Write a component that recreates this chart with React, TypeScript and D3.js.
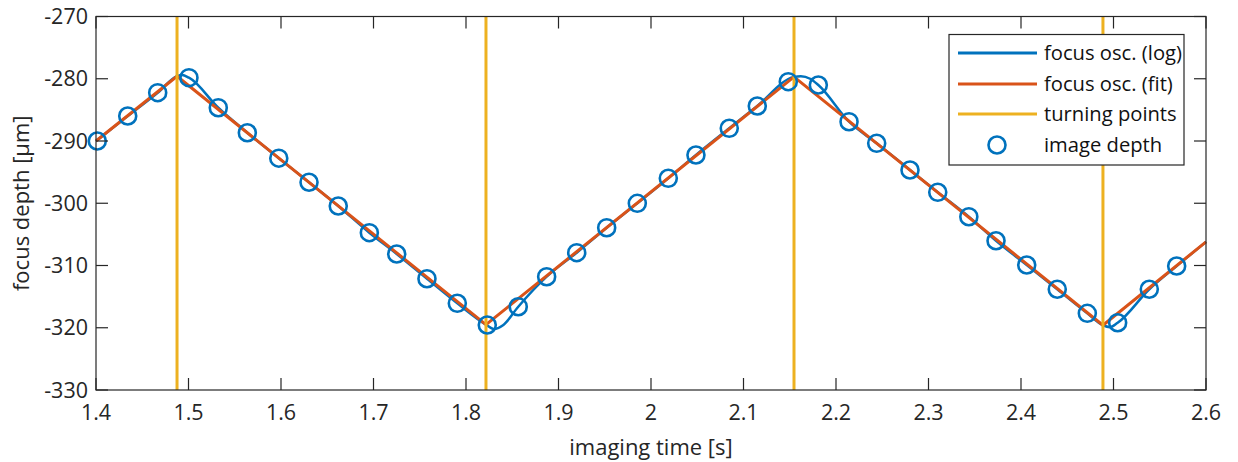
import React, { useEffect, useRef } from "react";
import * as d3 from "d3";

// image depth samples (circles)
const sampleTime = [
  1.4014, 1.4343, 1.4667, 1.5005, 1.5322, 1.5636, 1.5976, 1.6303, 1.6619, 1.6955,
  1.7251, 1.7578, 1.7906, 1.823, 1.8565, 1.8872, 1.9197, 1.9521, 1.9852, 2.0187,
  2.0486, 2.0846, 2.1149, 2.1484, 2.1809, 2.2141, 2.244, 2.28, 2.31, 2.3436,
  2.373, 2.4062, 2.4392, 2.4717, 2.5045, 2.5387, 2.5683,
];
const sampleDepth = [
  -290.0, -285.98, -282.24, -279.83, -284.65, -288.67, -292.76, -296.63, -300.44, -304.73,
  -308.15, -312.12, -316.07, -319.56, -316.62, -311.8, -307.94, -303.93, -300.01, -295.99,
  -292.25, -287.96, -284.38, -280.47, -281.0, -286.9, -290.37, -294.66, -298.24, -302.16,
  -306.02, -309.92, -313.82, -317.68, -319.19, -313.82, -310.08,
];

// focus oscillation from log
const logTime = [
  1.4, 1.4343, 1.4667, 1.4876, 1.493, 1.5005, 1.5322, 1.5636, 1.5976, 1.6303,
  1.6619, 1.6955, 1.7251, 1.7578, 1.7906, 1.8216, 1.83, 1.84, 1.8565, 1.8872,
  1.9197, 1.9521, 1.9852, 2.0187, 2.0486, 2.0846, 2.1149, 2.1546, 2.162, 2.172,
  2.1809, 2.2141, 2.244, 2.28, 2.31, 2.3436, 2.373, 2.4062, 2.4392, 2.4717,
  2.4886, 2.496, 2.5045, 2.5387, 2.5683, 2.6,
];
const logDepth = [
  -290.0, -285.98, -282.24, -279.6, -279.4, -279.83, -284.65, -288.67, -292.76, -296.63,
  -300.44, -304.73, -308.15, -312.12, -316.07, -319.5, -320.2, -319.6, -316.62, -311.8,
  -307.94, -303.93, -300.01, -295.99, -292.25, -287.96, -284.38, -279.7, -279.6, -280.0,
  -281.0, -286.9, -290.37, -294.66, -298.24, -302.16, -306.02, -309.92, -313.82, -317.68,
  -319.6, -319.9, -319.19, -313.82, -310.08, -306.2,
];

// fitted triangle wave
const fitTime = [1.4, 1.4876, 1.8216, 2.1546, 2.4886, 2.6];
const fitDepth = [-290.0, -279.6, -319.5, -279.7, -319.6, -306.2];

const turningPoints = [1.4876, 1.8216, 2.1546, 2.4886];

const xTicks = [1.4, 1.5, 1.6, 1.7, 1.8, 1.9, 2, 2.1, 2.2, 2.3, 2.4, 2.5, 2.6];
const yTicks = [-330, -320, -310, -300, -290, -280, -270];

const legendLabels = ["focus osc. (log)", "focus osc. (fit)", "turning points", "image depth"];

const BLUE = "#0072BD";
const ORANGE = "#D95319";
const YELLOW = "#EDB120";
const AXIS = "#262626";
const FONT = "'Open Sans', sans-serif";

export default function App() {
  const ref = useRef<SVGSVGElement>(null);

  useEffect(() => {
    const svg = d3.select(ref.current);
    svg.selectAll("*").remove();

    const left = 96, right = 1206, top = 16.5, bottom = 390;
    const x = d3.scaleLinear().domain([1.4, 2.6]).range([left, right]);
    const y = d3.scaleLinear().domain([-330, -270]).range([bottom, top]);

    const g = svg.append("g");

    const line = d3.line<[number, number]>().x(d => x(d[0])).y(d => y(d[1]));

    // log line
    g.append("path")
      .datum(logTime.map((t, i) => [t, logDepth[i]] as [number, number]))
      .attr("d", line.curve(d3.curveMonotoneX))
      .attr("fill", "none")
      .attr("stroke", BLUE)
      .attr("stroke-width", 2.5);

    // fit line
    g.append("path")
      .datum(fitTime.map((t, i) => [t, fitDepth[i]] as [number, number]))
      .attr("d", line.curve(d3.curveLinear))
      .attr("fill", "none")
      .attr("stroke", ORANGE)
      .attr("stroke-width", 3)
      .attr("stroke-linejoin", "round");

    // turning points
    g.selectAll(".tp")
      .data(turningPoints)
      .join("line")
      .attr("x1", d => x(d))
      .attr("x2", d => x(d))
      .attr("y1", top)
      .attr("y2", bottom)
      .attr("stroke", YELLOW)
      .attr("stroke-width", 3);

    // image depth circles
    g.selectAll(".pt")
      .data(sampleTime.map((t, i) => [t, sampleDepth[i]]))
      .join("circle")
      .attr("cx", d => x(d[0]))
      .attr("cy", d => y(d[1]))
      .attr("r", 8.5)
      .attr("fill", "none")
      .attr("stroke", BLUE)
      .attr("stroke-width", 2.6);

    // box
    g.append("rect")
      .attr("x", left).attr("y", top)
      .attr("width", right - left).attr("height", bottom - top)
      .attr("fill", "none")
      .attr("stroke", AXIS)
      .attr("stroke-width", 1.2);

    const tickLen = 12;
    xTicks.forEach(t => {
      g.append("line").attr("x1", x(t)).attr("x2", x(t)).attr("y1", bottom).attr("y2", bottom - tickLen)
        .attr("stroke", AXIS).attr("stroke-width", 1.2);
      g.append("line").attr("x1", x(t)).attr("x2", x(t)).attr("y1", top).attr("y2", top + tickLen)
        .attr("stroke", AXIS).attr("stroke-width", 1.2);
      g.append("text").attr("x", x(t)).attr("y", 420)
        .attr("text-anchor", "middle")
        .attr("font-family", FONT).attr("font-size", 21.5).attr("fill", AXIS)
        .text(String(t));
    });
    yTicks.forEach(v => {
      g.append("line").attr("x1", left).attr("x2", left + tickLen).attr("y1", y(v)).attr("y2", y(v))
        .attr("stroke", AXIS).attr("stroke-width", 1.2);
      g.append("line").attr("x1", right).attr("x2", right - tickLen).attr("y1", y(v)).attr("y2", y(v))
        .attr("stroke", AXIS).attr("stroke-width", 1.2);
      g.append("text").attr("x", 88).attr("y", y(v) + 7.5)
        .attr("text-anchor", "end")
        .attr("font-family", FONT).attr("font-size", 21.5).attr("fill", AXIS)
        .text(String(v));
    });

    // axis labels
    g.append("text").attr("x", 651).attr("y", 455)
      .attr("text-anchor", "middle")
      .attr("font-family", FONT).attr("font-size", 22).attr("fill", AXIS)
      .text("imaging time [s]");
    g.append("text")
      .attr("transform", `translate(29, ${(top + bottom) / 2}) rotate(-90)`)
      .attr("text-anchor", "middle")
      .attr("font-family", FONT).attr("font-size", 22).attr("fill", AXIS)
      .text("focus depth [µm]");

    // legend
    const lg = g.append("g");
    lg.append("rect")
      .attr("x", 949).attr("y", 34.5).attr("width", 235).attr("height", 130.5)
      .attr("fill", "white").attr("stroke", AXIS).attr("stroke-width", 1.2);
    const rowY = [53, 84, 114, 145];
    const rowColors = [BLUE, ORANGE, YELLOW];
    legendLabels.forEach((lab, i) => {
      if (i < 3) {
        lg.append("line").attr("x1", 958).attr("x2", 1037).attr("y1", rowY[i]).attr("y2", rowY[i])
          .attr("stroke", rowColors[i]).attr("stroke-width", 3);
      } else {
        lg.append("circle").attr("cx", 997).attr("cy", rowY[i]).attr("r", 8.5)
          .attr("fill", "none").attr("stroke", BLUE).attr("stroke-width", 2.6);
      }
      lg.append("text").attr("x", 1044).attr("y", rowY[i] + 7)
        .attr("font-family", FONT).attr("font-size", 20.2).attr("fill", "#111")
        .text(lab);
    });
  }, []);

  return (
    <svg
      ref={ref}
      width={1238}
      height={462}
      style={{ position: "absolute", left: 0, top: 0, background: "white" }}
    />
  );
}
